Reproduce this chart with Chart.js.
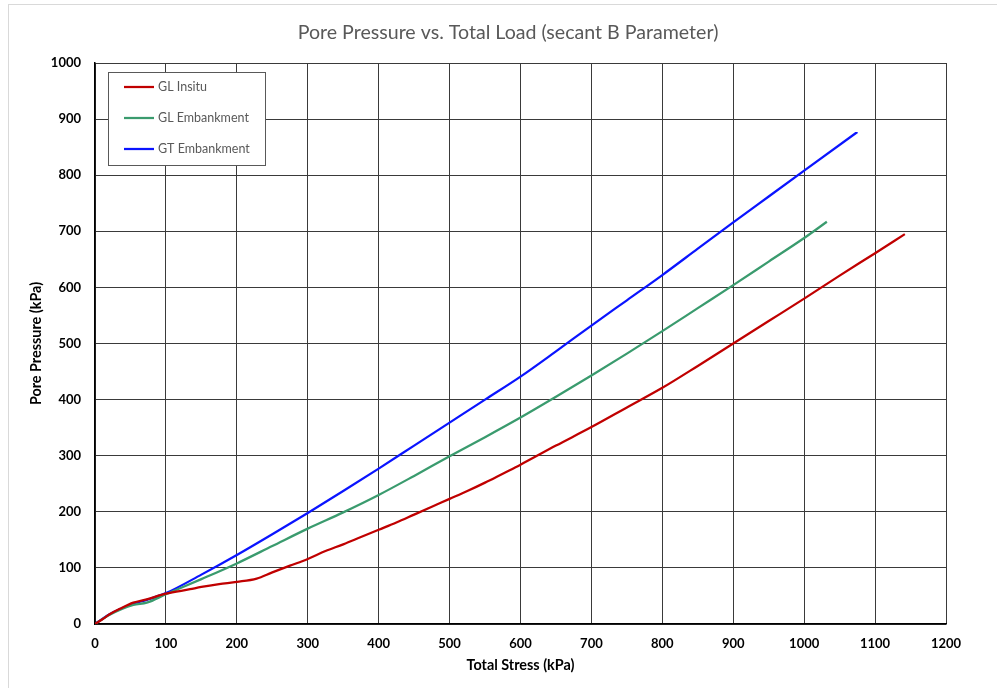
<!DOCTYPE html>
<html>
<head>
<meta charset="utf-8">
<script src="https://cdn.jsdelivr.net/npm/chart.js@4.4.1/dist/chart.umd.min.js"></script>
<style>
  html, body { margin: 0; padding: 0; background: #fff; }
  #wrap { width: 997px; height: 688px; position: relative; }
</style>
</head>
<body>
<div id="wrap"><canvas id="c" width="997" height="688"></canvas></div>
<script>
// ---- data ----
const chartTitle = 'Pore Pressure vs. Total Load (secant B Parameter)';
const seriesNames = ['GL Insitu', 'GL Embankment', 'GT Embankment'];

const insituStress = [0, 10, 20, 35, 54, 73, 100, 134, 150, 175, 200, 228, 250, 275, 300, 325, 350, 375, 400, 425, 450, 475, 500, 525, 550, 575, 600, 650, 700, 750, 800, 850, 900, 950, 1000, 1050, 1100, 1142];
const insituPore   = [0, 8, 17, 27, 38, 44, 54, 62, 66, 71, 75, 81, 92, 104, 116, 130, 142, 155, 168, 181, 195, 209, 223, 237, 252, 268, 284, 318, 351, 386, 421, 460, 500, 540, 580, 621, 661, 695];

const glEmbStress = [0, 20, 54, 73, 100, 150, 200, 250, 300, 350, 400, 450, 500, 550, 600, 650, 700, 750, 800, 850, 900, 950, 1000, 1032];
const glEmbPore   = [0, 16, 34, 38, 53, 80, 108, 139, 170, 199, 230, 264, 299, 333, 368, 405, 443, 482, 522, 563, 604, 646, 688, 717];

const gtEmbStress = [0, 20, 54, 73, 100, 150, 200, 250, 300, 350, 400, 450, 500, 550, 600, 650, 700, 750, 800, 850, 900, 950, 1000, 1075];
const gtEmbPore   = [0, 17, 36, 43, 55, 88, 123, 160, 198, 237, 277, 318, 359, 400, 441, 486, 532, 577, 622, 669, 716, 762, 808, 877];

const xTicks = [0, 100, 200, 300, 400, 500, 600, 700, 800, 900, 1000, 1100, 1200];
const yTicks = [0, 100, 200, 300, 400, 500, 600, 700, 800, 900, 1000];

const seriesColors = ['#C00000', '#3A9B6E', '#0A14FF'];
const FONT = 'Lato, "Open Sans", sans-serif';

function pts(xs, ys) { return xs.map((x, i) => ({ x: x, y: ys[i] })); }

const frame = {
  id: 'frame',
  beforeDraw(chart) {
    const ctx = chart.ctx;
    ctx.save();
    ctx.fillStyle = '#fff';
    ctx.fillRect(0, 0, chart.width, chart.height);
    ctx.strokeStyle = '#d9d9d9';
    ctx.lineWidth = 1;
    ctx.strokeRect(8.5, 4.5, 1200, 1000);
    ctx.fillStyle = '#595959';
    ctx.font = '19.6px ' + FONT;
    ctx.textAlign = 'center';
    ctx.textBaseline = 'middle';
    ctx.fillText(chartTitle, 508, 33);
    ctx.restore();
  }
};

const boxLegend = {
  id: 'boxLegend',
  afterDraw(chart) {
    const ctx = chart.ctx;
    ctx.save();
    ctx.fillStyle = '#fff';
    ctx.fillRect(108.5, 72.5, 157, 93);
    ctx.strokeStyle = '#595959';
    ctx.lineWidth = 1;
    ctx.strokeRect(108.5, 72.5, 157, 93);
    ctx.font = '12.5px ' + FONT;
    ctx.textBaseline = 'middle';
    ctx.textAlign = 'left';
    chart.data.datasets.forEach((ds, i) => {
      const y = 87 + i * 31;
      ctx.strokeStyle = ds.borderColor;
      ctx.lineWidth = 2.25;
      ctx.beginPath();
      ctx.moveTo(124, y);
      ctx.lineTo(154, y);
      ctx.stroke();
      ctx.fillStyle = '#595959';
      ctx.fillText(ds.label, 158, y);
    });
    ctx.restore();
  }
};

new Chart(document.getElementById('c'), {
  type: 'scatter',
  data: {
    datasets: [
      { label: seriesNames[0], data: pts(insituStress, insituPore), borderColor: seriesColors[0], backgroundColor: seriesColors[0] },
      { label: seriesNames[1], data: pts(glEmbStress, glEmbPore), borderColor: seriesColors[1], backgroundColor: seriesColors[1] },
      { label: seriesNames[2], data: pts(gtEmbStress, gtEmbPore), borderColor: seriesColors[2], backgroundColor: seriesColors[2] }
    ].map(d => Object.assign(d, { showLine: true, borderWidth: 2.25, pointRadius: 0, cubicInterpolationMode: 'monotone', fill: false }))
  },
  options: {
    responsive: false,
    animation: false,
    layout: { padding: { left: 0, right: 51, top: 63, bottom: 0 } },
    plugins: {
      legend: { display: false },
      tooltip: { enabled: false },
      title: { display: false }
    },
    scales: {
      x: {
        type: 'linear',
        min: 0, max: 1200,
        afterBuildTicks(s) { s.ticks = xTicks.map(v => ({ value: v })); },
        afterFit(s) { s.height = 64; },
        grid: { color: '#3a3a3a', lineWidth: 1, drawTicks: false },
        border: { color: '#000', width: 1.5 },
        ticks: { color: '#000', padding: 12, callback: v => String(v), font: { family: FONT, size: 13, weight: 'bold' } },
        title: { display: true, text: 'Total Stress (kPa)', color: '#000', font: { family: FONT, size: 14.4, weight: 'bold' }, padding: { top: 0, bottom: 13.7 } }
      },
      y: {
        type: 'linear',
        min: 0, max: 1000,
        afterBuildTicks(s) { s.ticks = yTicks.map(v => ({ value: v })); },
        afterFit(s) { s.width = 95; },
        grid: { color: '#3a3a3a', lineWidth: 1, drawTicks: false },
        border: { color: '#000', width: 1.5 },
        ticks: { color: '#000', padding: 14, callback: v => String(v), font: { family: FONT, size: 13, weight: 'bold' } },
        title: { display: true, text: 'Pore Pressure (kPa)', color: '#000', font: { family: FONT, size: 14.4, weight: 'bold' }, padding: { top: 27.4, bottom: 0 } }
      }
    }
  },
  plugins: [frame, boxLegend]
});
</script>
</body>
</html>
